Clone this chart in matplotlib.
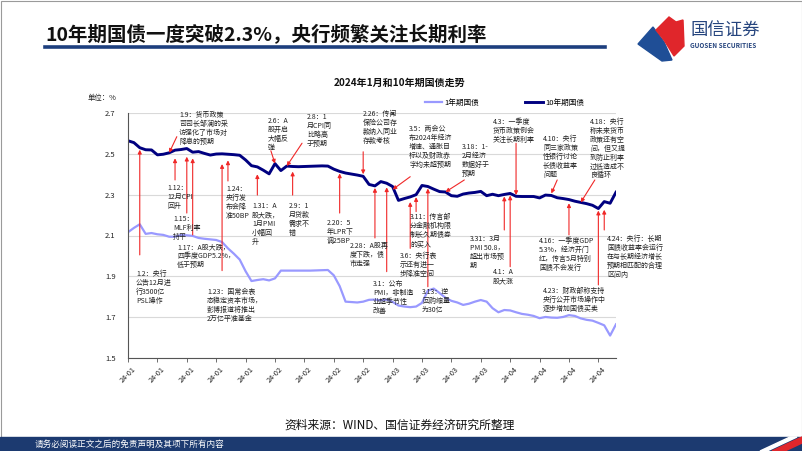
import matplotlib
matplotlib.use("Agg")
import matplotlib.pyplot as plt
from matplotlib.transforms import Affine2D
from matplotlib.lines import Line2D
from matplotlib.patches import Polygon, Rectangle

plt.rcParams['font.family'] = ['Noto Sans CJK SC', 'DejaVu Sans']

# ---- data ----
yield_10y = [2.564, 2.555, 2.530, 2.520, 2.519, 2.495, 2.498, 2.505, 2.518, 2.521,
             2.526, 2.508, 2.511, 2.502, 2.494, 2.499, 2.500, 2.498, 2.496, 2.493,
             2.470, 2.442, 2.436, 2.420, 2.402, 2.452, 2.418, 2.440, 2.438, 2.437,
             2.438, 2.439, 2.440, 2.441, 2.440, 2.425, 2.414, 2.406, 2.401, 2.396,
             2.390, 2.350, 2.343, 2.364, 2.356, 2.340, 2.272, 2.281, 2.289, 2.300,
             2.345, 2.340, 2.327, 2.315, 2.313, 2.295, 2.292, 2.303, 2.308, 2.311,
             2.316, 2.295, 2.302, 2.295, 2.301, 2.306, 2.292, 2.291, 2.291, 2.291,
             2.284, 2.298, 2.296, 2.285, 2.281, 2.276, 2.268, 2.262, 2.256, 2.248,
             2.232, 2.266, 2.258, 2.312]
yield_1y = [2.116, 2.137, 2.155, 2.108, 2.112, 2.106, 2.103, 2.094, 2.094, 2.102,
            2.101, 2.098, 2.088, 2.084, 2.081, 2.078, 2.068, 2.037, 2.011, 1.982,
            1.925, 1.877, 1.882, 1.886, 1.880, 1.890, 1.928, 1.928, 1.928, 1.928,
            1.928, 1.928, 1.929, 1.930, 1.931, 1.905, 1.852, 1.776, 1.774, 1.772,
            1.776, 1.785, 1.786, 1.782, 1.786, 1.775, 1.757, 1.752, 1.749, 1.752,
            1.770, 1.830, 1.840, 1.818, 1.795, 1.780, 1.772, 1.760, 1.766, 1.776,
            1.784, 1.776, 1.744, 1.724, 1.735, 1.733, 1.724, 1.716, 1.712, 1.706,
            1.695, 1.701, 1.698, 1.697, 1.701, 1.710, 1.706, 1.694, 1.687, 1.683,
            1.672, 1.660, 1.610, 1.665]
tick_labels = ['24-01'] * 5 + ['24-02'] * 4 + ['24-03'] * 4 + ['24-04'] * 4
y_ticks = [1.5, 1.7, 1.9, 2.1, 2.3, 2.5, 2.7]

notes = [
    "1.9：货币政策\n司司长邹澜的采\n访强化了市场对\n降息的预期",
    "1.12：\n12月CPI\n回升",
    "1.15：\nMLF利率\n持平",
    "1.17：A股大跌，\n四季度GDP5.2%，\n低于预期",
    "1.2：央行\n公告12月进\n行3500亿\nPSL操作",
    "1.23：国常会表\n态稳定资本市场，\n彭博报道将推出\n2万亿平准基金",
    "1.24：\n央行发\n布会降\n准50BP",
    "1.31：A\n股大跌，\n1月PMI\n小幅回\n升",
    "2.6：A\n股开启\n大幅反\n弹",
    "2.8：1\n月CPI同\n比略高\n于预期",
    "2.9：1\n月贷款\n需求不\n错",
    "2.20：5\n年LPR下\n调25BP",
    "2.26：传闻\n保险公司存\n款纳入同业\n存款考核",
    "2.28：A股再\n度下跌，债\n市走强",
    "3.1：公布\nPMI，非制造\n业超季节性\n改善",
    "3.5：两会公\n布2024年经济\n增速、通胀目\n标以及财政赤\n字均未超预期",
    "3.6：央行表\n示还有进一\n步降准空间",
    "3.11：传言部\n分金融机构限\n制长久期债券\n的买入",
    "3.13：逆\n回购缩量\n为30亿",
    "3.18：1-\n2月经济\n数据好于\n预期",
    "3.31：3月\nPMI 50.8，\n超出市场预\n期",
    "4.1：A\n股大涨",
    "4.3：一季度\n货币政策例会\n关注长期利率",
    "4.10：央行\n同三家政策\n性银行讨论\n长债收益率\n问题",
    "4.16：一季度GDP\n5.3%，经济开门\n红，传言5月特别\n国债不会发行",
    "4.18：央行\n称未来货币\n政策还有空\n间，但又提\n到防止利率\n过低造成不\n良循环",
    "4.23：财政部称支持\n央行公开市场操作中\n逐步增加国债买卖",
    "4.24：央行：长期\n国债收益率会运行\n在与长期经济增长\n预期相匹配的合理\n区间内",
]
# index of the trading day each note points at
note_idx = [7, 8, 10, 11, 2, 16, 17, 22, 25, 27, 28, 36, 40, 42, 44, 45, 48, 49,
            51, 54, 64, 65, 66, 72, 75, 77, 80, 81]

# ---- layout: text top-left (px), arrow tail (x index, y value), head offset ----
note_layout = [
    (179, 111, 8.3, 2.584, 0.0),
    (167, 184, 8, 2.372, -0.04),
    (173, 215, 10, 2.210, -0.04),
    (177, 243, 11, 2.103, -0.03),
    (136, 270, 2, 2.005, -0.01),
    (207, 288, 16, 1.928, -0.05),
    (226, 185, 17, 2.367, -0.03),
    (252, 202, 22, 2.298, -0.036),
    (268, 117, 24.3, 2.515, 0.0),
    (307, 113, 29.6, 2.552, 0.0),
    (289, 202, 28, 2.298, -0.025),
    (327, 219, 36, 2.210, -0.01),
    (363, 110, 40, 2.510, 0.01),
    (350, 242, 42, 2.088, -0.01),
    (373, 280, 44, 1.923, -0.02),
    (409, 125, 48, 2.388, -0.015),
    (400, 252, 48, 2.037, -0.025),
    (410, 213, 49, 2.217, -0.012),
    (422, 288, 51, 1.849, -0.01),
    (462, 143, 57.2, 2.372, 0.0),
    (470, 235, 64, 2.127, -0.01),
    (493, 268, 65, 1.947, -0.01),
    (493, 118, 66, 2.552, 0.006),
    (543, 135, 73, 2.372, 0.01),
    (539, 237, 75, 2.103, -0.018),
    (590, 118, 79.4, 2.372, 0.0),
    (543, 287, 80, 1.858, -0.01),
    (607, 235, 81, 2.127, -0.04),
]

W, H = 802, 451
fig = plt.figure(figsize=(W / 100, H / 100), dpi=100)
pix = Affine2D().scale(1 / W, -1 / H).translate(0, 1) + fig.transFigure

# ---- page furniture ----
fig.add_artist(Rectangle((0.5, 0.5), W - 1, H - 1, transform=pix, fill=False,
                         edgecolor='#9a9a9a', lw=0.8))
fig.text(45, 35, "10年期国债一度突破2.3%，央行频繁关注长期利率", transform=pix,
         fontsize=14, fontweight='bold', color='#111111', va='center', ha='left')
fig.add_artist(Line2D([45, 605], [46.5, 46.5], transform=pix, lw=2.6, color='#1d3f7e'))
fig.add_artist(Polygon([(638, 44), (653, 27), (664, 42), (672, 60), (662, 61)],
                       transform=pix, color='#1f4e96'))
fig.add_artist(Polygon([(656, 30), (669, 17), (676, 22), (683, 20), (684, 46),
                        (674, 56), (664, 40)], transform=pix, color='#e0262b'))
fig.text(690, 31, "国信证券", transform=pix, fontsize=12.5, color='#26457e',
         va='center', ha='left')
fig.text(690, 46, "GUOSEN SECURITIES", transform=pix, fontsize=4.6, color='#26457e',
         fontweight='bold', va='center', ha='left')

fig.add_artist(Rectangle((0, 437), W, 14, transform=pix, color='#1c3a70'))
fig.add_artist(Polygon([(772, 451), (802, 437), (802, 443), (785, 451)],
                       transform=pix, color='#e0262b'))
fig.add_artist(Polygon([(760, 451), (790, 437), (797, 437), (767, 451)],
                       transform=pix, color='#ffffff'))
fig.text(35, 444, "请务必阅读正文之后的免责声明及其项下所有内容", transform=pix,
         fontsize=6.2, color='white', va='center', ha='left')
fig.text(400, 425, "资料来源：WIND、国信证券经济研究所整理", transform=pix,
         fontsize=8.5, color='#111111', va='center', ha='center')

fig.text(400, 83, "2024年1月和10年期国债走势", transform=pix, fontsize=7.2,
         fontweight='bold', color='#111111', va='center', ha='center')
fig.text(88, 98, "单位：%", transform=pix, fontsize=5.3, color='#222222',
         va='center', ha='left')

# ---- chart ----
ax = fig.add_axes([128 / W, 1 - 358 / H, (616 - 128) / W, (358 - 113) / H])
x = list(range(len(yield_10y)))
l1, = ax.plot(x, yield_1y, color='#9999ff', lw=1.6, label='1年期国债')
l10, = ax.plot(x, yield_10y, color='#000080', lw=2.1, label='10年期国债')
ax.set_xlim(0, len(x) - 1)
ax.set_ylim(1.5, 2.7)
ax.set_yticks(y_ticks)
ax.set_yticklabels([f"{v:.1f}" for v in y_ticks], fontsize=5.5, color='#222222')
ax.set_xticks(list(range(0, 5 * len(tick_labels), 5)))
ax.set_xticklabels(tick_labels, rotation=45, ha='center', fontsize=5.3, color='#222222')
ax.tick_params(axis='y', length=0, pad=9)
ax.tick_params(axis='x', length=3, width=0.6, color='#555555', pad=2)
ax.grid(axis='y', color='#d9d9d9', lw=0.8)
ax.set_axisbelow(True)
for s in ['top', 'right']:
    ax.spines[s].set_visible(False)
for s in ['left', 'bottom']:
    ax.spines[s].set_color('#555555')
    ax.spines[s].set_linewidth(0.8)

fig.legend(handles=[l1, l10], loc='center left', bbox_to_anchor=(418 / W, 1 - 103 / H),
           ncol=2, frameon=False, fontsize=5.5, handlelength=2.3, columnspacing=6.0,
           handletextpad=0.3)

for txt, idx, (tx, ty, ax_i, ax_v, off) in zip(notes, note_idx, note_layout):
    fig.text(tx, ty, txt, transform=pix, fontsize=5.0, color='#222222',
             va='top', ha='left', linespacing=1.15)
    ax.annotate('', xy=(idx, yield_10y[idx] + off), xytext=(ax_i, ax_v),
                arrowprops=dict(arrowstyle='-|>', color='#f02828', lw=0.8,
                                mutation_scale=5.5, shrinkA=0, shrinkB=0),
                annotation_clip=False)

fig.savefig("out.png", dpi=100)
